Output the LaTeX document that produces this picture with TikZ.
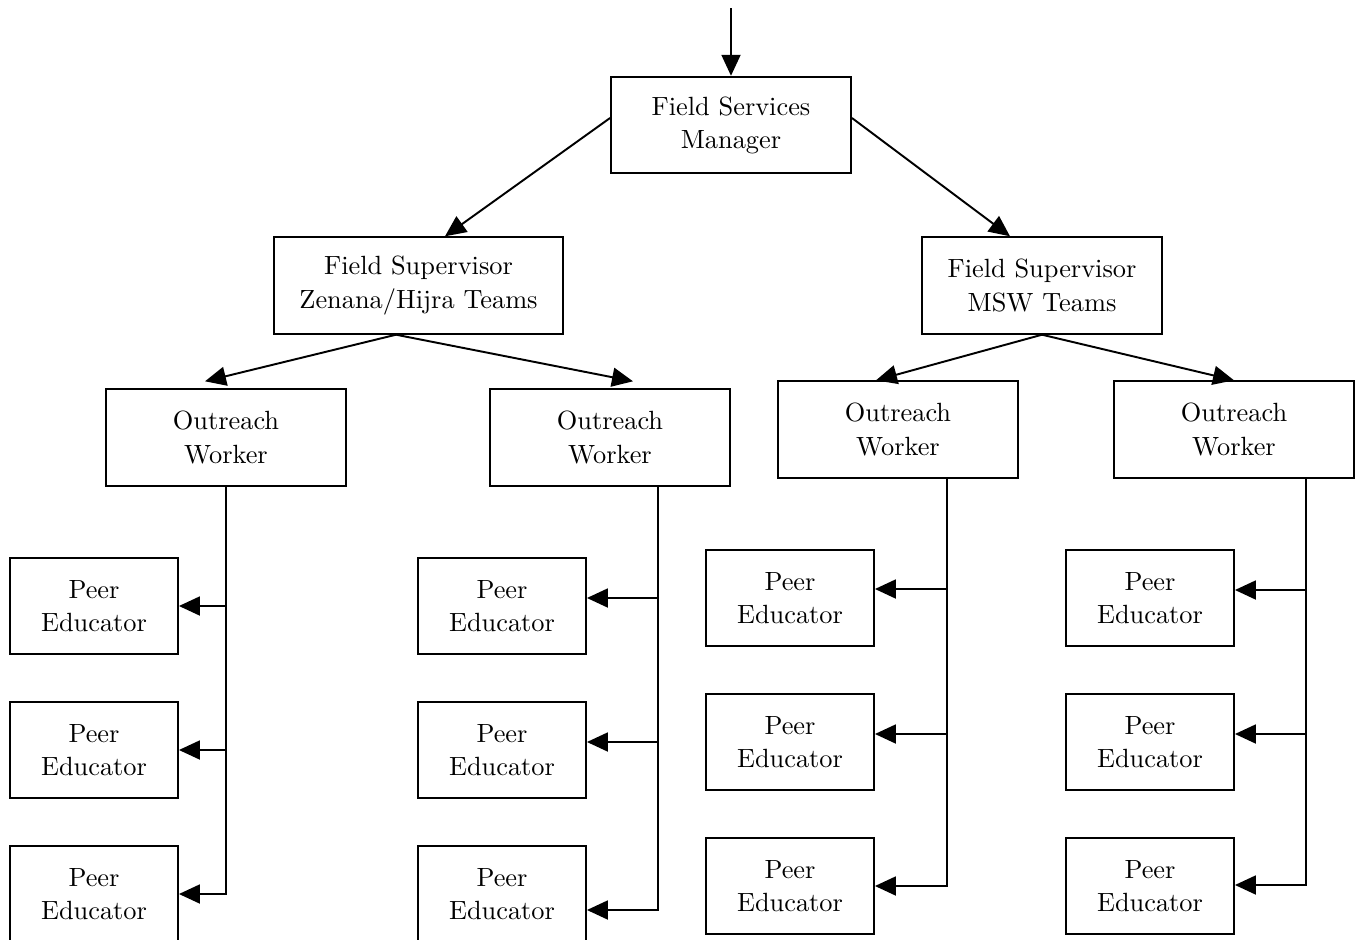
\documentclass[tikz,border=0pt]{standalone}
\usepackage{fontspec}
\setmainfont{lmroman10-regular.otf}
\usepackage{tikz}
\usetikzlibrary{arrows.meta}
\tikzset{
  orgbox/.style={draw, line width=1.1pt, align=center, inner sep=2pt,
    minimum width=4.8cm, minimum height=1.93cm,
    font=\fontsize{15}{18.8}\selectfont},
  peerbox/.style={orgbox, minimum width=3.36cm},
  trunk/.style={line width=1.1pt},
  link/.style={line width=1.1pt, -{Triangle[length=0.42cm,width=0.38cm]}},
}

\begin{document}
\begin{tikzpicture}[x=0.02cm, y=-0.02cm]
\useasboundingbox (0,0) rectangle (1363,940);

% top levels
\node[orgbox] (fsm) at (731,125) {Field Services\\Manager};
\node[orgbox, minimum width=5.78cm] (fsz) at (418.5,285.5) {Field Supervisor\\Zenana/Hijra Teams};
\node[orgbox] (fsw) at (1042,285.5) {Field Supervisor\\MSW Teams};

\node[orgbox] (ow1) at (226,437.5) {Outreach\\Worker};
\node[orgbox] (ow2) at (610,437.5) {Outreach\\Worker};
\node[orgbox] (ow3) at (898,429.5) {Outreach\\Worker};
\node[orgbox] (ow4) at (1234,429.5) {Outreach\\Worker};

% peer educators
\node[peerbox] (pe11) at (94,606) {Peer\\Educator};
\node[peerbox] (pe12) at (94,750) {Peer\\Educator};
\node[peerbox] (pe13) at (94,894) {Peer\\Educator};
\node[peerbox] (pe21) at (502,606) {Peer\\Educator};
\node[peerbox] (pe22) at (502,750) {Peer\\Educator};
\node[peerbox] (pe23) at (502,894) {Peer\\Educator};
\node[peerbox] (pe31) at (790,598) {Peer\\Educator};
\node[peerbox] (pe32) at (790,742) {Peer\\Educator};
\node[peerbox] (pe33) at (790,886) {Peer\\Educator};
\node[peerbox] (pe41) at (1150,598) {Peer\\Educator};
\node[peerbox] (pe42) at (1150,742) {Peer\\Educator};
\node[peerbox] (pe43) at (1150,886) {Peer\\Educator};

% arrows between levels
\coordinate (top) at (731,8);
\draw[link] (top) -- (fsm.north);
\draw[link] ([yshift=0.14cm]fsm.west) -- ([xshift=0.53cm]fsz.north);
\draw[link] ([yshift=0.14cm]fsm.east) -- ([xshift=-0.64cm]fsw.north);
\draw[link] ([xshift=-0.45cm]fsz.south) -- ([xshift=-0.42cm,yshift=0.14cm]ow1.north);
\draw[link] ([xshift=-0.45cm]fsz.south) -- ([xshift=0.46cm,yshift=0.14cm]ow2.north);
\draw[link] (fsw.south) -- ([xshift=-0.44cm]ow3.north);
\draw[link] (fsw.south) -- (ow4.north);

% trunks down to the peer educators
\coordinate (t1) at (226,894);
\coordinate (t2) at (658,910);
\coordinate (t3) at (947,886);
\coordinate (t4) at (1306,885);

\draw[link] (ow1.south) -- (t1) -- (pe13.east |- t1);
\draw[link] (t1 |- pe11.east) -- (pe11.east);
\draw[link] (t1 |- pe12.east) -- (pe12.east);

\draw[link] (ow2.south -| t2) -- (t2) -- (pe23.east |- t2);
\draw[link] (t2 |- 0,598) -- (pe21.east |- 0,598);
\draw[link] (t2 |- 0,742) -- (pe22.east |- 0,742);

\draw[link] (ow3.south -| t3) -- (t3) -- (pe33.east |- t3);
\draw[link] (t3 |- 0,589) -- (pe31.east |- 0,589);
\draw[link] (t3 |- 0,734) -- (pe32.east |- 0,734);

\draw[link] (ow4.south -| t4) -- (t4) -- (pe43.east |- t4);
\draw[link] (t4 |- 0,590) -- (pe41.east |- 0,590);
\draw[link] (t4 |- 0,734) -- (pe42.east |- 0,734);
\end{tikzpicture}
\end{document}
